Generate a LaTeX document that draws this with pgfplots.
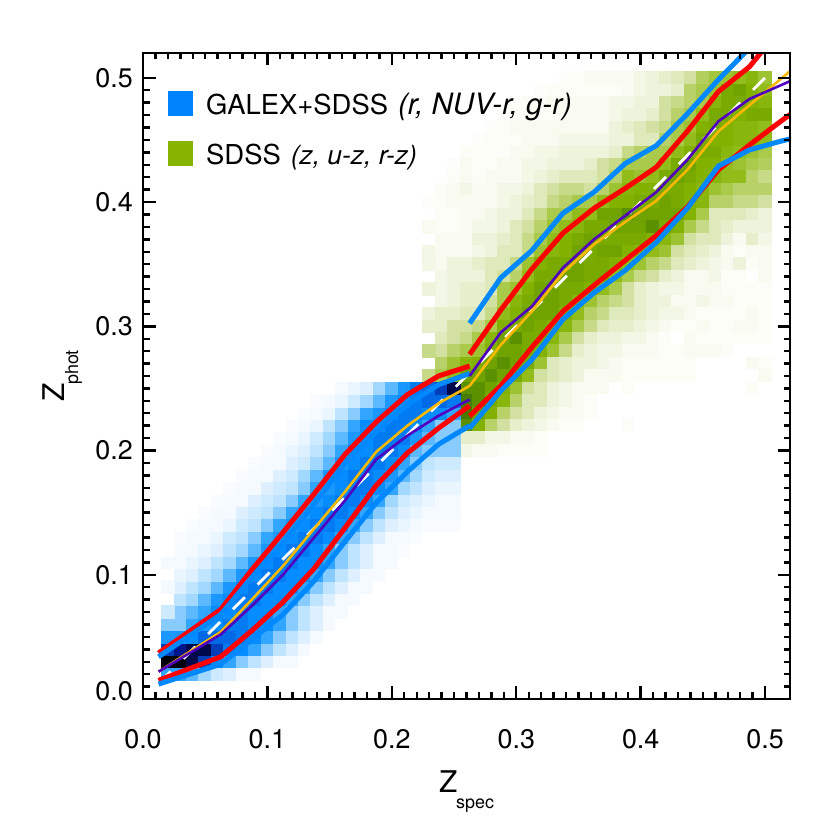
\documentclass[border=0pt]{standalone}
\usepackage{fontspec}
\setmainfont{TeX Gyre Heros}
\usepackage{pgfplots}
\pgfplotsset{compat=1.18}
\definecolor{lineblue}{RGB}{0,136,255}
\definecolor{linered}{RGB}{255,0,0}
\definecolor{linepurple}{RGB}{80,0,190}
\definecolor{lineyellow}{RGB}{250,185,0}
\definecolor{swblue}{RGB}{0,130,250}
\definecolor{swgreen}{RGB}{135,180,0}
\pgfplotsset{
 colormap={heatblue}{rgb255(0cm)=(255,255,255);rgb255(1cm)=(244,250,255);rgb255(2cm)=(222,240,255);rgb255(3cm)=(190,228,255);rgb255(4cm)=(135,203,255);rgb255(5cm)=(50,165,255);rgb255(6cm)=(5,140,255);rgb255(7cm)=(0,105,230);rgb255(8cm)=(0,20,140);rgb255(9cm)=(0,0,10)},
 colormap={heatgreen}{rgb255(0cm)=(255,255,255);rgb255(1cm)=(249,251,240);rgb255(2cm)=(238,244,220);rgb255(3cm)=(222,233,188);rgb255(4cm)=(198,218,135);rgb255(5cm)=(170,202,75);rgb255(6cm)=(145,188,25);rgb255(7cm)=(130,177,0);rgb255(8cm)=(113,163,0);rgb255(9cm)=(70,125,0)},
 heatcell/.style={only marks, scatter, forget plot, mark=square*, mark size=6.25bp, scatter/use mapped color={draw=mapped color, fill=mapped color}, mark options={line width=0pt}, point meta=\thisrowno{0}},
 commonaxis/.style={at={(143bp,131bp)}, anchor=south west, scale only axis, width=647bp, height=646bp, xmin=0, xmax=0.52, ymin=0, ymax=0.52},
}
\begin{document}
\begin{tikzpicture}
\useasboundingbox (0bp,0bp) rectangle (830bp,830bp);
\begin{axis}[commonaxis, hide axis, point meta min=0, point meta max=9]
\addplot[heatcell, colormap name=heatgreen] table[header=false, row sep=\\, x expr={0.23+0.01*mod(\coordindex,28)}, y expr={0.50-0.01*floor(\coordindex/28)}] {
0\\0\\0\\0\\0\\0\\0\\0\\0\\0\\0\\.3\\.5\\1\\1\\1\\1\\1.5\\2\\2.5\\3\\3.5\\4.7\\5.3\\5.5\\6\\6.5\\5.5\\
0\\0\\0\\0\\0\\0\\0\\0\\0\\.3\\.5\\.5\\.5\\.5\\.5\\.5\\1\\1.5\\2\\2\\2.5\\4.5\\5\\5.5\\7.5\\8\\7\\6\\
0\\0\\0\\0\\0\\0\\0\\.3\\.5\\.5\\1\\1\\1\\1\\1\\1.5\\1.5\\2\\2\\3.5\\4\\4.5\\5\\6.5\\7.5\\7.5\\7\\6.5\\
0\\0\\0\\0\\0\\0\\.3\\.5\\.5\\.5\\.5\\1\\1\\1\\1\\1.5\\2\\2\\2.5\\3.5\\4.5\\5\\6\\7.5\\7.5\\7\\7.5\\7.5\\
0\\0\\0\\0\\0\\.3\\.5\\1\\1\\1\\1\\1\\1\\1\\1\\2\\2.5\\3\\3.5\\4\\5\\5.5\\7\\7.5\\7\\6.5\\6.5\\6\\
0\\0\\0\\0\\.3\\.5\\.5\\.5\\1\\1\\1\\1.5\\1.5\\1.5\\1.5\\2\\2\\3\\3\\4.5\\5\\6\\7.5\\7\\7\\6.5\\6.5\\6\\
0\\0\\0\\.5\\.5\\.5\\.5\\1\\1\\1.5\\1.5\\2\\2\\2\\2\\2.5\\4\\4.5\\5\\5\\6\\7\\7.5\\7.5\\6.5\\6\\5.5\\5\\
0\\0\\.3\\1\\.5\\.5\\1\\1\\1.5\\1.5\\2\\2\\2\\2.5\\3.5\\4\\5\\5\\5\\6\\7.5\\8\\7\\7\\6\\5.5\\5\\4.7\\
0\\0\\.5\\1\\.5\\1\\1\\1\\1.5\\2\\2.5\\3\\3\\3\\3.5\\4.5\\6\\5.5\\6\\7.5\\8\\7.5\\7\\6.5\\6\\6\\4.5\\4\\
0\\.5\\1\\1.5\\1\\1\\1.5\\1.5\\2\\3\\3.5\\4\\4\\3.5\\4.5\\5.5\\6.5\\7\\7\\7.5\\7.5\\7\\6.5\\5.5\\5\\4.5\\4.5\\4.5\\
.3\\.5\\1\\1\\1\\1\\1.5\\2\\2.5\\3\\4\\4.5\\5\\5\\6\\7\\7\\7.5\\7.5\\8\\7.5\\7\\6.5\\4.5\\4.5\\4\\4\\3.5\\
.3\\.5\\.5\\1\\1\\1.5\\2\\2\\3\\4\\5\\5\\6\\6\\8\\8\\8.5\\8\\8\\8\\8\\7\\5\\3\\3\\3\\2.5\\2\\
1\\.5\\.5\\1\\1.5\\1.5\\2\\3\\3.5\\4.5\\5.5\\6\\6.5\\7.5\\7.5\\8\\8\\8\\8.5\\7.5\\7\\5\\4\\3\\2.5\\2\\2\\2\\
1\\1\\1\\1\\2\\2\\2.5\\3\\4\\5\\6\\7\\7.5\\8\\7.5\\7.5\\7.5\\7.5\\7\\6.5\\5.5\\3.5\\3\\3\\2\\1\\2.5\\1.5\\
1.5\\1\\1\\1\\1.5\\2\\3\\3\\4\\5.5\\6.5\\7\\8\\7.5\\8\\8\\7\\6.5\\6\\5.5\\3.5\\3\\2.5\\2\\1\\.5\\1\\1\\
1.5\\1\\2\\2\\2.5\\3\\3\\4\\5.5\\7\\7.5\\7.5\\8\\7.5\\7.5\\7\\6\\5.5\\4.5\\4\\3\\2.5\\2\\1.5\\1\\2\\.5\\1\\
1.5\\1.5\\2\\2\\2\\3\\3.5\\4.5\\6\\7.5\\7.5\\8\\8\\7.5\\7.5\\6\\5\\4\\3.5\\2.5\\2\\1\\1\\1.5\\.5\\.5\\0\\1\\
1.5\\1.5\\2\\2.5\\2.5\\3\\5\\5.5\\7\\8\\8\\7.5\\7.5\\7\\6\\5\\3.5\\2.5\\2\\1.5\\1.5\\1\\1\\1\\.5\\.5\\.5\\.5\\
2\\1.5\\2\\2.5\\2.5\\3.5\\5\\6.5\\7.5\\8\\8\\7.5\\6.5\\5.5\\4.5\\4\\3.5\\2.5\\2\\2\\1\\1\\1.5\\1\\1\\.5\\.5\\.5\\
2\\2.5\\2.5\\3\\3\\4\\6\\7\\8\\8\\8\\7\\6\\4.5\\4\\3\\3\\2.5\\2\\1.5\\1.5\\1\\.5\\.5\\.5\\.5\\1\\.5\\
2.5\\2.5\\3.5\\3.5\\4\\5\\7\\7.5\\8\\7.5\\7\\6.5\\5\\4\\3\\2.5\\2.5\\2\\1.5\\1\\.5\\.5\\1\\.5\\.5\\1\\1\\.5\\
2.5\\3\\3.5\\4\\5\\6.5\\8\\8.5\\7.5\\7.5\\6.5\\5\\3.5\\2.5\\2\\2\\1.5\\1.5\\1\\.5\\0\\1\\.5\\.5\\.5\\.5\\.5\\.5\\
3\\3.5\\4.5\\5\\5.5\\7\\8\\8\\7.5\\7\\5.5\\4\\2.5\\2\\1.5\\1.5\\1\\1\\1\\.5\\.5\\1\\1\\1\\.5\\0\\0\\0\\
4\\4.5\\5.5\\6.5\\7\\8\\8.5\\8\\7.5\\5.5\\3\\2.5\\2\\2\\1.5\\1\\.5\\.5\\.5\\.5\\.5\\.5\\0\\0\\0\\0\\1\\.5\\
4\\5\\6\\8\\8\\8.5\\8\\7.5\\6\\3.5\\3\\2.5\\2\\1\\1\\1\\.5\\.5\\.5\\.5\\.5\\.5\\0\\0\\0\\0\\0\\1\\
0\\0\\0\\8.5\\8.5\\8\\7\\5.5\\3.5\\3\\2\\1.5\\1\\1\\1\\0\\.5\\0\\0\\0\\0\\0\\0\\0\\0\\0\\.5\\0\\
0\\0\\0\\9\\8.5\\7.5\\6.5\\4.5\\3\\3\\2\\1.5\\1\\.5\\0\\0\\0\\0\\0\\0\\0\\0\\0\\0\\0\\0\\0\\0\\
0\\0\\0\\9\\8\\7\\4.5\\3.5\\3\\2\\1.5\\1\\1\\.5\\0\\0\\0\\0\\0\\0\\0\\0\\0\\0\\0\\0\\0\\0\\
0\\0\\0\\8.5\\7\\4.5\\3.5\\2.5\\2\\1.5\\1\\.5\\.5\\0\\0\\0\\.5\\0\\0\\0\\0\\0\\0\\0\\0\\0\\0\\0\\
0\\0\\0\\2.5\\2.5\\1.5\\1.5\\1\\1\\.5\\0\\0\\0\\0\\0\\0\\0\\0\\0\\0\\0\\0\\0\\0\\0\\0\\0\\0\\
0\\0\\0\\1.5\\1\\1\\.5\\.5\\.5\\.5\\0\\0\\0\\0\\0\\0\\0\\0\\0\\0\\0\\0\\0\\0\\0\\0\\0\\0\\
};
\addplot[heatcell, colormap name=heatblue] table[header=false, row sep=\\, x expr={0.02+0.01*mod(\coordindex,24)}, y expr={0.02+0.01*floor(\coordindex/24)}] {
5\\5\\4.5\\3.5\\2.5\\2\\1\\1\\0\\0\\0\\0\\0\\0\\0\\0\\0\\0\\0\\0\\0\\0\\0\\0\\
9\\9\\8.5\\7.5\\6\\5\\4\\3\\2\\1\\1\\0\\0\\0\\0\\0\\0\\0\\0\\0\\0\\0\\0\\0\\
7.5\\8\\8.5\\8.5\\7.5\\6.5\\6\\5\\4\\3\\2\\1\\0\\0\\0\\0\\0\\0\\0\\0\\0\\0\\0\\0\\
5.5\\5.5\\6\\7\\7\\7\\6.5\\6\\5\\4\\3\\2\\1\\0\\0\\0\\0\\0\\0\\0\\0\\0\\0\\0\\
4\\4\\5\\5.5\\6\\6.5\\6.5\\6\\6\\5\\4\\3\\2\\1\\0\\0\\0\\0\\0\\0\\0\\0\\0\\0\\
3\\4\\4.5\\5\\6\\6\\6.5\\6\\6\\5\\4\\3\\2\\1\\1\\0\\0\\0\\0\\0\\0\\0\\0\\0\\
2.5\\3\\3.5\\4.5\\5.5\\6\\6.5\\6.5\\6\\6\\5\\4\\3\\2\\1\\1\\0\\0\\0\\0\\0\\0\\0\\0\\
2\\2\\3\\3.5\\4.5\\5.5\\6\\6.5\\6.5\\6\\6\\5\\4\\3\\2\\1\\1\\0\\0\\0\\0\\0\\0\\0\\
1\\1.5\\2\\3\\3.5\\4.5\\5.5\\6\\6.5\\6.5\\6\\6\\5\\4\\3\\2\\1\\1\\0\\0\\0\\0\\0\\0\\
1\\1\\1.5\\2\\3\\3.5\\4.5\\5.5\\6\\6.5\\6.5\\6\\6\\5\\4\\3\\2\\1\\1\\0\\0\\0\\0\\0\\
.5\\1\\1\\1.5\\2\\3\\3.5\\4.5\\5.5\\6\\6.5\\6.5\\6\\5\\4\\3\\2\\1\\1\\.5\\0\\0\\0\\0\\
0\\.5\\1\\1\\1.5\\2.5\\3\\4\\5\\5.5\\6\\6.5\\6.5\\6\\5\\4\\3\\2\\1\\1\\.5\\0\\0\\0\\
0\\0\\.5\\1\\1\\1.5\\2.5\\3\\4\\5\\5.5\\6\\6.5\\6.5\\6\\5\\4\\3\\2\\1.5\\1\\.5\\.5\\.5\\
0\\0\\0\\.5\\1\\1\\2\\2.5\\3\\4\\5\\5.5\\6\\6.5\\6.5\\6\\5\\4\\3\\2\\1.5\\1\\1\\1\\
0\\0\\0\\0\\.5\\1\\1\\2\\2.5\\3\\4\\5\\5.5\\6\\6.5\\6.5\\6\\5\\3.5\\2.5\\2\\1.5\\1\\1\\
0\\0\\0\\0\\0\\.5\\1\\1\\2\\2.5\\3\\4\\5\\5.5\\6\\6.5\\6.5\\6\\5\\3.5\\3\\2\\1.5\\1.5\\
0\\0\\0\\0\\0\\0\\.5\\1\\1\\2\\2.5\\3.5\\4.5\\5.5\\6\\6.5\\6.5\\6\\5.5\\4.5\\3.5\\2.5\\2\\2\\
0\\0\\0\\0\\0\\0\\0\\.5\\1\\1\\2\\2.5\\3.5\\4.5\\5.5\\6\\6.5\\6.5\\6\\5\\4\\3\\2.5\\2.5\\
0\\0\\0\\0\\0\\0\\0\\0\\.5\\1\\1.5\\2\\3\\4\\5\\6\\6\\6.5\\6.5\\6\\4.5\\4\\4\\4\\
0\\0\\0\\0\\0\\0\\0\\0\\0\\.5\\1\\1.5\\2.5\\3.5\\4.5\\5.5\\6\\6.5\\6.5\\6.5\\5.5\\4.5\\4\\4\\
0\\0\\0\\0\\0\\0\\0\\0\\0\\0\\.5\\1\\1.5\\3\\4\\5\\6\\6\\6.5\\6.5\\6\\5\\4\\4\\
0\\0\\0\\0\\0\\0\\0\\0\\0\\0\\0\\.5\\1\\1.5\\3\\4\\5\\5.5\\6\\6.5\\6.5\\6\\6\\5\\
0\\0\\0\\0\\0\\0\\0\\0\\0\\0\\0\\0\\.5\\1\\1.5\\2.5\\3.5\\4.5\\5.5\\6\\6.5\\7\\7\\6.5\\
0\\0\\0\\0\\0\\0\\0\\0\\0\\0\\0\\0\\0\\0\\1\\1.5\\2\\3.5\\4.5\\5.5\\6.5\\7\\7.5\\8.5\\
};
\end{axis}
\begin{axis}[commonaxis,
 axis on top,
 xtick={0,0.1,0.2,0.3,0.4,0.5}, ytick={0,0.1,0.2,0.3,0.4,0.5},
 xticklabels={0.0,0.1,0.2,0.3,0.4,0.5},
 yticklabels={\raisebox{17bp}{0.0},0.1,0.2,0.3,0.4,0.5},
 minor tick num=9,
 tick align=inside, tick pos=both,
 major tick length=12.5bp, minor tick length=6.5bp,
 every tick/.style={black,line width=2.4bp},
 axis line style={line width=2.6bp},
 tick label style={font=\fontsize{27}{27}\selectfont, inner sep=0pt},
 x tick label style={anchor=base, yshift=-49bp},
 y tick label style={anchor=east, xshift=-10bp},
]
\addplot[white, line width=2.8bp, dash pattern=on 17bp off 18bp, forget plot] coordinates {(0.0125,0.0125) (0.5,0.5)};
\addplot[linered, line width=5bp, forget plot] coordinates {(0.0125,0.037)(0.0625,0.072)(0.0875,0.104)(0.1125,0.134)(0.1375,0.165)(0.1625,0.197)(0.1875,0.223)(0.2125,0.245)(0.2375,0.26)(0.2625,0.268)};
\addplot[linered, line width=5bp, forget plot] coordinates {(0.0125,0.015)(0.0625,0.034)(0.0875,0.055)(0.1125,0.078)(0.1375,0.105)(0.1625,0.138)(0.1875,0.172)(0.2125,0.198)(0.2375,0.218)(0.2625,0.236)};
\addplot[lineblue, line width=5bp, forget plot] coordinates {(0.0125,0.034)(0.0625,0.068)(0.0875,0.098)(0.1125,0.126)(0.1375,0.157)(0.1625,0.19)(0.1875,0.215)(0.2125,0.237)(0.2375,0.253)(0.2625,0.262)};
\addplot[lineblue, line width=5bp, forget plot] coordinates {(0.0125,0.012)(0.0625,0.028)(0.0875,0.048)(0.1125,0.068)(0.1375,0.095)(0.1625,0.127)(0.1875,0.158)(0.2125,0.183)(0.2375,0.205)(0.2625,0.22)};
\addplot[lineyellow, line width=2.6bp, forget plot] coordinates {(0.0125,0.022)(0.0625,0.054)(0.0875,0.08)(0.1125,0.107)(0.1375,0.137)(0.1625,0.167)(0.1875,0.199)(0.2125,0.22)(0.2375,0.238)(0.2625,0.252)};
\addplot[linepurple, line width=2.6bp, forget plot] coordinates {(0.0125,0.022)(0.0625,0.052)(0.0875,0.075)(0.1125,0.1)(0.1375,0.13)(0.1625,0.16)(0.1875,0.193)(0.2125,0.212)(0.2375,0.228)(0.2625,0.241)};
\addplot[linered, line width=5bp, forget plot] coordinates {(0.2625,0.2774)(0.2875,0.313)(0.3125,0.346)(0.3375,0.375)(0.3625,0.395)(0.3875,0.411)(0.4125,0.428)(0.4375,0.457)(0.4625,0.489)(0.4875,0.509)(0.5125,0.54)};
\addplot[linered, line width=5bp, forget plot] coordinates {(0.2625,0.2277)(0.2875,0.252)(0.3125,0.283)(0.3375,0.312)(0.3625,0.333)(0.3875,0.353)(0.4125,0.373)(0.4375,0.396)(0.4625,0.426)(0.4875,0.446)(0.5125,0.465)(0.5375,0.483)};
\addplot[lineblue, line width=5bp, forget plot] coordinates {(0.2625,0.3024)(0.2875,0.339)(0.3125,0.361)(0.3375,0.391)(0.3625,0.408)(0.3875,0.431)(0.4125,0.4454)(0.4375,0.471)(0.4625,0.4986)(0.4875,0.524)};
\addplot[lineblue, line width=5bp, forget plot] coordinates {(0.2625,0.218)(0.2875,0.248)(0.3125,0.273)(0.3375,0.3056)(0.3625,0.327)(0.3875,0.345)(0.4125,0.3675)(0.4375,0.395)(0.4625,0.429)(0.4875,0.442)(0.5125,0.449)(0.5375,0.455)};
\addplot[lineyellow, line width=2.6bp, forget plot] coordinates {(0.2625,0.252)(0.2875,0.285)(0.3125,0.312)(0.3375,0.343)(0.3625,0.366)(0.3875,0.384)(0.4125,0.401)(0.4375,0.426)(0.4625,0.457)(0.4875,0.478)(0.5125,0.499)(0.5375,0.52)};
\addplot[linepurple, line width=2.6bp, forget plot] coordinates {(0.2625,0.26)(0.2875,0.295)(0.3125,0.316)(0.3375,0.347)(0.3625,0.37)(0.3875,0.389)(0.4125,0.408)(0.4375,0.434)(0.4625,0.465)(0.4875,0.483)(0.5125,0.494)(0.5375,0.505)};
\end{axis}
\fill[swblue] (168bp,714bp) rectangle (193bp,739bp);
\fill[swgreen] (168bp,664bp) rectangle (193bp,689bp);
\node[anchor=base west, inner sep=0pt] at (206bp,715bp) {\fontsize{27.5}{30}\selectfont GALEX+SDSS\hspace{10bp}\fontsize{29.5}{30}\selectfont\textit{(r, NUV-r, g-r)}};
\node[anchor=base west, inner sep=0pt] at (206bp,665bp) {\fontsize{27.5}{30}\selectfont SDSS\hspace{10bp}\fontsize{26.5}{30}\selectfont\textit{(z, u-z, r-z)}};
\node[anchor=base west, inner sep=0pt] at (439bp,38bp) {\fontsize{30}{30}\selectfont Z};
\node[anchor=base west, inner sep=0pt] at (456bp,22bp) {\fontsize{18}{18}\selectfont spec};
\node[anchor=base west, inner sep=0pt, rotate=90] at (64bp,428bp) {\fontsize{30}{30}\selectfont Z};
\node[anchor=base west, inner sep=0pt, rotate=90] at (78bp,445bp) {\fontsize{18}{18}\selectfont phot};
\end{tikzpicture}
\end{document}
